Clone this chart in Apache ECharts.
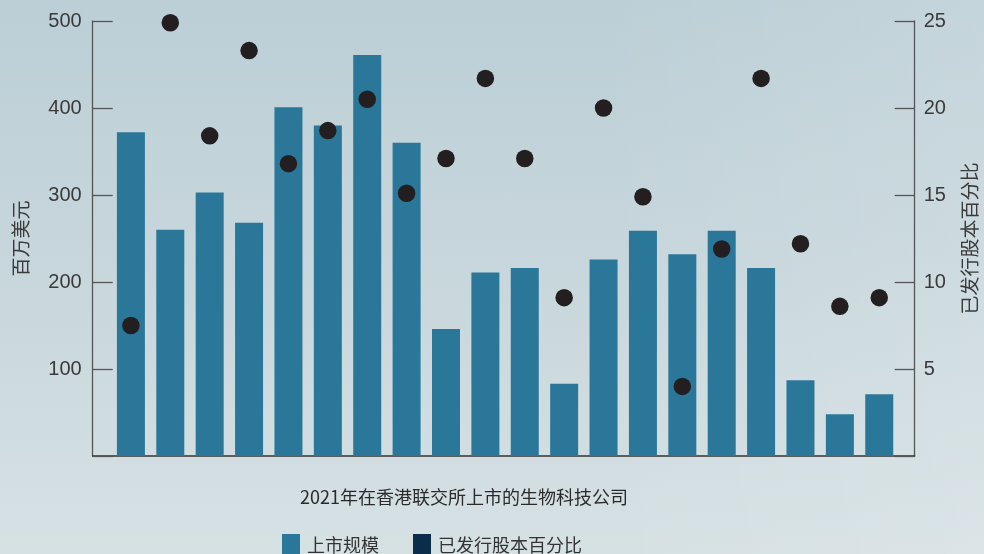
<!DOCTYPE html>
<html>
<head>
<meta charset="utf-8">
<script src="https://cdn.jsdelivr.net/npm/echarts@6/dist/echarts.min.js"></script>
<style>
  html, body { margin: 0; padding: 0; }
  body {
    width: 984px; height: 554px; overflow: hidden;
    background:
      linear-gradient(90deg, rgba(255,255,255,0) 0%, rgba(255,255,255,0) 60%, rgba(255,255,255,0.12) 100%),
      linear-gradient(180deg, #bccfd6 0%, #c5d5db 40%, #cfdce0 75%, #d6e1e4 100%);
  }
  #chart { width: 984px; height: 554px; }
</style>
</head>
<body>
<div id="chart"></div>
<script>
// 20 biotech listings on HKEX in 2021 (unlabelled in the source)
const companies = ['1','2','3','4','5','6','7','8','9','10','11','12','13','14','15','16','17','18','19','20'];
const listingSize = [372, 260, 303, 268, 401, 380, 461, 360, 146, 211, 216, 83, 226, 259, 232, 259, 216, 87, 48, 71];
const sharePct = [7.5, 24.9, 18.4, 23.3, 16.8, 18.7, 20.5, 15.1, 17.1, 21.7, 17.1, 9.1, 20.0, 14.9, 4.0, 11.9, 21.7, 12.2, 8.6, 9.1];
const leftTicks = ['', '100', '200', '300', '400', '500'];
const rightTicks = ['', '5', '10', '15', '20', '25'];

const latin = '"Liberation Sans", "Noto Sans CJK SC", sans-serif';
const cjk = '"Noto Sans CJK SC", "Liberation Sans", sans-serif';

const chart = echarts.init(document.getElementById('chart'));
chart.setOption({
  backgroundColor: 'transparent',
  animation: false,
  title: {
    text: '2021年在香港联交所上市的生物科技公司',
    left: 295, top: 483,
    textStyle: { fontFamily: cjk, fontSize: 18, fontWeight: 'normal', color: '#2a2a2a' }
  },
  legend: {
    left: 277, top: 529,
    itemWidth: 18, itemHeight: 22, itemGap: 34,
    icon: 'rect',
    textStyle: { fontFamily: cjk, fontSize: 18, color: '#333', padding: [0, 0, 0, 2] },
    data: [
      { name: '上市规模', itemStyle: { color: '#2a7799' } },
      { name: '已发行股本百分比', itemStyle: { color: '#0b2d4a' } }
    ]
  },
  grid: { left: 92.7, right: 69.3, top: 21, bottom: 98, containLabel: false, outerBoundsMode: 'none' },
  xAxis: {
    type: 'value', min: -0.97, max: 19.9, scale: true,
    axisLine: { show: true, lineStyle: { color: '#333', width: 1.5 } },
    axisTick: { show: false }, axisLabel: { show: false }, splitLine: { show: false }
  },
  yAxis: [
    {
      type: 'value', min: 0, max: 500, interval: 100,
      name: '百万美元', nameLocation: 'middle', nameRotate: 90, nameGap: 62,
      nameTextStyle: { fontFamily: cjk, fontSize: 19, color: '#3a3a3a' },
      axisLine: { show: true, onZero: false, lineStyle: { color: '#555', width: 1.3 } },
      axisTick: { show: true, inside: true, length: 20, lineStyle: { color: '#555', width: 1.3 } },
      axisLabel: { fontFamily: latin, fontSize: 20, color: '#3a3a3a', margin: 11,
        formatter: (v) => leftTicks[v / 100] },
      splitLine: { show: false }
    },
    {
      type: 'value', min: 0, max: 25, interval: 5, position: 'right',
      name: '已发行股本百分比', nameLocation: 'middle', nameRotate: 90, nameGap: 46,
      nameTextStyle: { fontFamily: cjk, fontSize: 19, color: '#3a3a3a' },
      axisLine: { show: true, onZero: false, lineStyle: { color: '#555', width: 1.3 } },
      axisTick: { show: true, inside: true, length: 20, lineStyle: { color: '#555', width: 1.3 } },
      axisLabel: { fontFamily: latin, fontSize: 20, color: '#3a3a3a', margin: 9,
        formatter: (v) => rightTicks[v / 5] },
      splitLine: { show: false }
    }
  ],
  series: [
    {
      name: '上市规模', type: 'bar', yAxisIndex: 0, barWidth: 28,
      itemStyle: { color: '#2a7799' },
      data: companies.map((c, i) => [i, listingSize[i]])
    },
    {
      name: '已发行股本百分比', type: 'scatter', yAxisIndex: 1,
      symbol: 'circle', symbolSize: 17.5,
      itemStyle: { color: '#231f20', opacity: 1 },
      data: companies.map((c, i) => [i, sharePct[i]])
    }
  ]
});
</script>
</body>
</html>
